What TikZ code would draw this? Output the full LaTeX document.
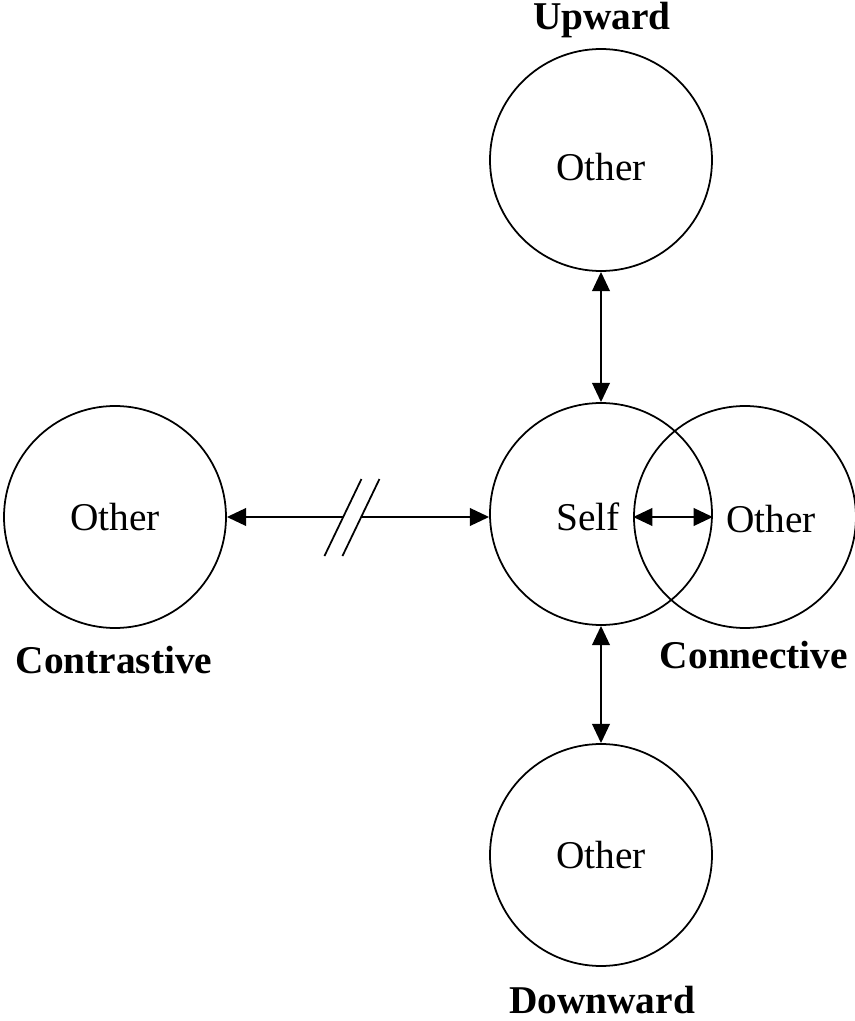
\documentclass[tikz,border=0pt]{standalone}
\usepackage{fontspec}
\setmainfont{Liberation Serif}
\usetikzlibrary{arrows.meta}

\begin{document}
\begin{tikzpicture}[
    other/.style={draw, circle, line width=0.5pt, minimum size=2.22cm, inner sep=0pt},
    link/.style={line width=0.7pt, {Triangle[length=5.5pt,width=5pt]}-{Triangle[length=5.5pt,width=5pt]}},
    every node/.style={font=\fontsize{11.2}{13}\selectfont}
  ]
    \useasboundingbox (0,0) rectangle (8.55,10.21);

    % Self in the middle
    \node[other] (self) at (6.01,5.07) {};
    \node (selftext) at (5.88,5.04) {Self};

    % Upward and downward others
    \node[other] (up) at (6.01,8.61) {};
    \node (uptext) at (6.01,8.54) {Other};
    \node at (6.02,10.01) {\bfseries Upward};
    \node[other] (down) at (6.01,1.66) {Other};
    \node at (6.02,0.21) {\bfseries Downward};

    % Contrastive other
    \node[other] (contra) at (1.15,5.04) {Other};
    \node at (1.14,3.61) {\bfseries Contrastive};

    % Connective other (overlaps self)
    \node[other] (conn) at (7.45,5.04) {};
    \node (conntext) at (7.71,5.02) {Other};
    \node at (7.54,3.66) {\bfseries Connective};

    % Links
    \draw[link] (up) -- (self);
    \draw[link] (self) -- (down);
    \draw[link] (conn.west) -- (self.east |- conn.west);
    \draw[link] (contra.east) -- (self.west |- contra.east)
        coordinate[pos=0.477] (brk);

    % Break marks
    \fill[white] ([shift={(-0.275,-0.39)}]brk) -- ([shift={(0.095,0.38)}]brk)
        -- ([shift={(0.275,0.38)}]brk) -- ([shift={(-0.095,-0.39)}]brk) -- cycle;
    \draw[line width=0.5pt] ([shift={(-0.275,-0.39)}]brk) -- ([shift={(0.095,0.38)}]brk);
    \draw[line width=0.5pt] ([shift={(-0.095,-0.39)}]brk) -- ([shift={(0.275,0.38)}]brk);
\end{tikzpicture}
\end{document}
